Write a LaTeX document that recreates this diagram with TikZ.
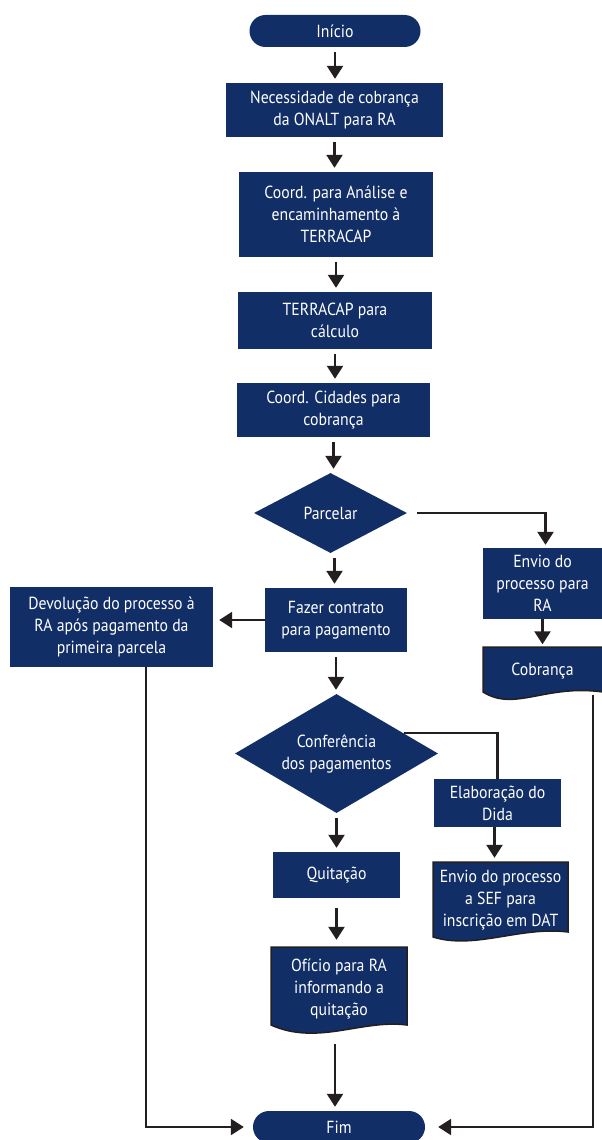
\documentclass[tikz,border=0pt]{standalone}
\usepackage{fontspec}
\setmainfont[FakeStretch=0.9]{PT Sans}
\usetikzlibrary{shapes.geometric,arrows.meta,calc}
\definecolor{navy}{HTML}{122E66}
\definecolor{ink}{HTML}{231F20}
\begin{document}
\begin{tikzpicture}[x=1pt,y=-1pt,
  box/.style={fill=navy,text=white,align=center,inner sep=0pt,font=\fontsize{17.5}{22}\selectfont},
  term/.style={box,rounded corners=16pt,minimum height=32pt},
  dec/.style={box,diamond},
  doctext/.style={box,fill=none},
  conn/.style={draw=ink,line width=2.4pt,-{Triangle[length=13pt,width=16pt]}},
  plain/.style={draw=ink,line width=2.4pt},
  docline/.style={draw=ink,line width=1.5pt,fill=navy}]
\useasboundingbox (0,0) rectangle (602,1140);

% terminals and process boxes
\node[term,minimum width=171pt] (start) at (335,31) {Início};
\node[box,minimum width=217pt,minimum height=54pt] (n1) at (334.5,110) {Necessidade de cobrança\\da ONALT para RA};
\node[box,minimum width=194pt,minimum height=85pt] (n2) at (336,214.5) {Coord. para Análise e\\encaminhamento à\\TERRACAP};
\node[box,minimum width=194pt,minimum height=57pt] (n3) at (335,320.5) {TERRACAP para\\cálculo};
\node[box,minimum width=193pt,minimum height=54pt] (n4) at (333.5,410) {Coord. Cidades para\\cobrança};
\node[dec,aspect=1.9,minimum width=153pt,minimum height=80pt] (parc) at (330.5,513) {Parcelar};
\node[box,minimum width=119pt,minimum height=71pt] (envra) at (542.5,583.5) {Envio do\\processo para\\RA};
\node[box,minimum width=142pt,minimum height=64pt] (fazer) at (336,620) {Fazer contrato\\para pagamento};
\node[box,minimum width=203pt,minimum height=80pt] (dev) at (111.5,627) {Devolução do processo à\\RA após pagamento da\\primeira parcela};
\node[dec,aspect=1.7,minimum width=203pt,minimum height=119pt] (conf) at (336.5,753.5) {Conferência\\dos pagamentos};
\node[box,minimum width=127pt,minimum height=48pt] (elab) at (497.5,803) {Elaboração do\\Dida};
\node[box,minimum width=127pt,minimum height=46pt] (quit) at (336.5,875) {Quitação};

% document shapes
\path[docline] (483,647) -- (603,647) -- (603,692) .. controls (545,684) and (515,712) .. (483,692) -- cycle;
\path[docline] (433,862) -- (568,862) -- (568,932) .. controls (520,926) and (475,950) .. (433,937) -- cycle;
\path[docline] (271,947) -- (407,947) -- (407,1025) .. controls (362,1019) and (318,1046) .. (271,1025) -- cycle;
\node[doctext,minimum width=119pt,minimum height=47pt] (cob) at (542.5,671) {Cobrança};
\node[doctext,minimum width=135pt,minimum height=78pt] (sef) at (500.5,900) {Envio do processo\\a SEF para\\inscrição em DAT};
\node[doctext,minimum width=136pt,minimum height=90pt] (ofi) at (339,989) {Ofício para RA\\informando a\\quitação};

\node[term,minimum width=172pt] (fim) at (339,1127) {Fim};

% connectors
\begin{scope}[shorten <=5pt,shorten >=4pt]
\draw[conn] (start.south) -- (start.south |- n1.north);
\draw[conn] (n1.south) -- (n1.south |- n2.north);
\draw[conn] (n2.south) -- (n2.south |- n3.north);
\draw[conn] (n3.south) -- (n3.south |- n4.north);
\draw[conn] (n4.south) -- (n4.south |- parc.north);
\draw[conn] ([xshift=4pt]parc.south) -- ([xshift=4pt]parc.south |- fazer.north);
\draw[conn] (fazer.south) -- (fazer.south |- conf.north);
\draw[conn] (conf.south) -- (conf.south |- quit.north);
\draw[conn,shorten <=10pt] (quit.south) -- (quit.south |- ofi.north);
\draw[conn,shorten <=10pt] ([xshift=-4pt]ofi.south) -- ([xshift=-4pt]ofi.south |- fim.north);
\draw[conn,shorten <=0pt,shorten >=3pt] (envra.south) -- (envra.south |- cob.north);
\draw[conn,shorten <=0pt,shorten >=3pt] ([xshift=-3pt]elab.south) -- ([xshift=-3pt]elab.south |- sef.north);
\end{scope}
\draw[conn,shorten <=10pt,shorten >=3pt] (parc.east) -| ([xshift=3pt]envra.north);
\draw[conn,shorten >=6pt] (fazer.west) -- (fazer.west -| dev.east);
\draw[conn,shorten >=9pt] ([xshift=34.5pt]dev.south) |- (fim.west);
\draw[conn,shorten >=13pt] ([xshift=50.5pt]cob.south) |- (fim.east);
\draw[plain] ($(conf.north)!0.66!(conf.east)$) -| (elab.north);
\end{tikzpicture}
\end{document}
